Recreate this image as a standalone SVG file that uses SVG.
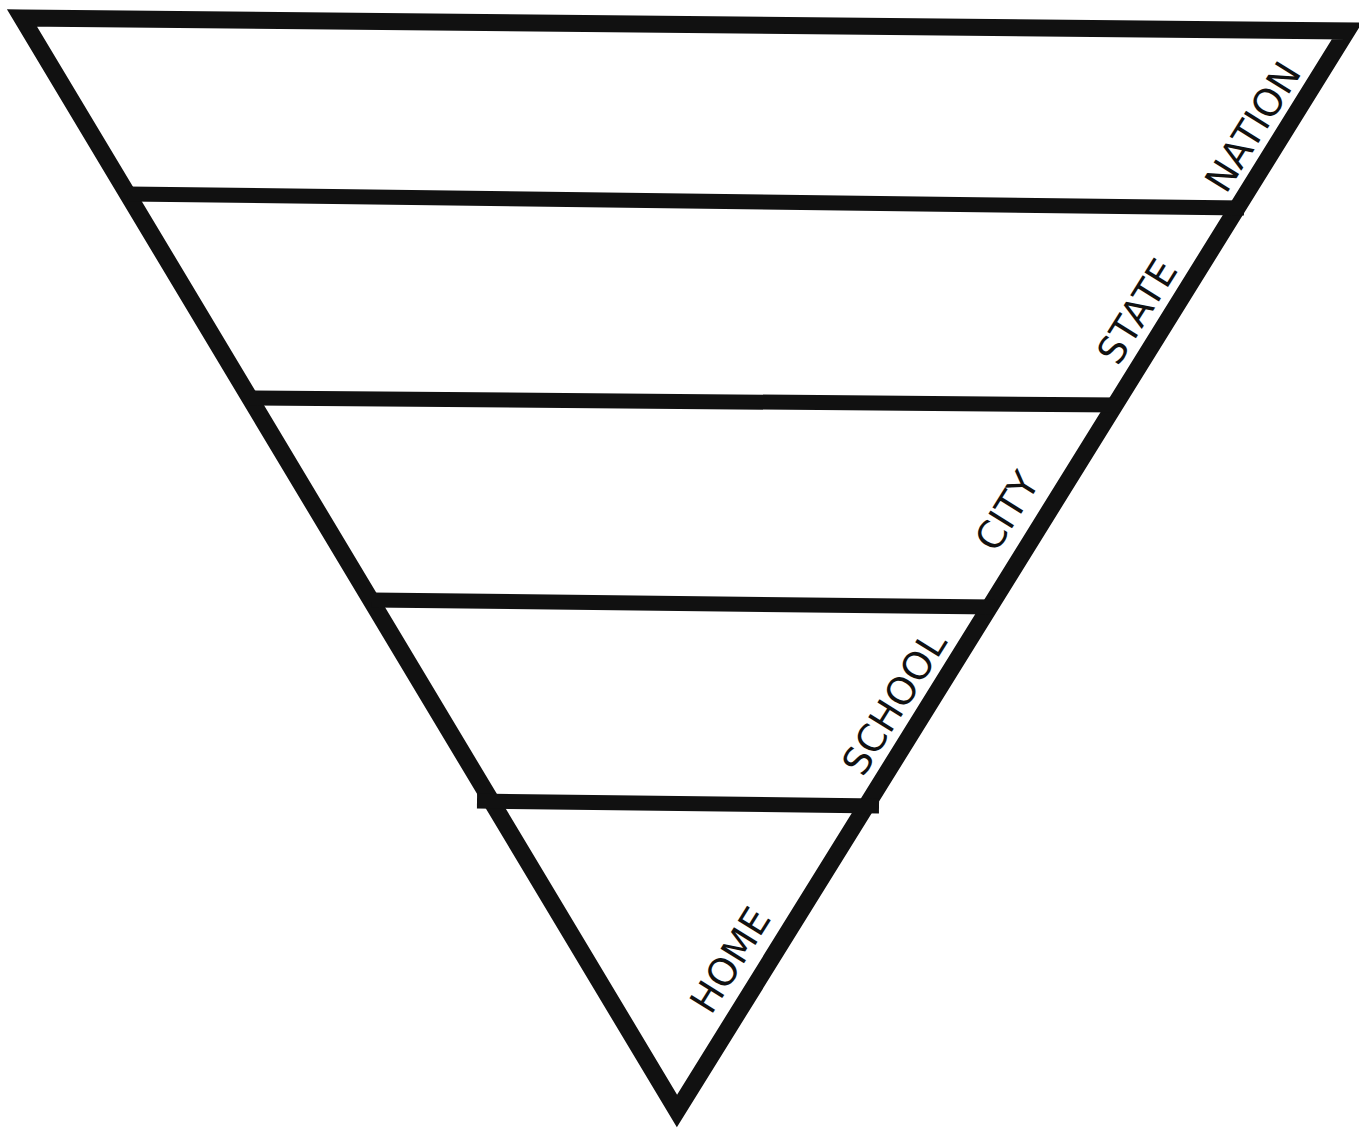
<svg xmlns="http://www.w3.org/2000/svg" width="1359" height="1129" viewBox="0 0 1359 1129">
<style>
.edge{fill:none;stroke:#111;stroke-width:17;stroke-linejoin:miter;stroke-miterlimit:10}
.bar{fill:none;stroke:#111;stroke-width:15;stroke-linecap:butt}
.lbl{font-family:"DejaVu Sans","Liberation Sans",sans-serif;font-size:38px;fill:#111}
</style>
<rect width="1359" height="1129" fill="#fff"/>
<g id="connectors">
<polygon id="triangle" class="edge" points="22,18 1347,31 677,1111"/>
<line class="bar" x1="128" y1="194" x2="1244" y2="208"/>
<line class="bar" x1="250" y1="398" x2="1120" y2="405"/>
<line class="bar" x1="372" y1="600" x2="994" y2="607"/>
<line class="bar" x1="477" y1="801" x2="879" y2="806"/>
</g>
<g id="nation"><text class="lbl" transform="translate(1226,195) rotate(-58)">NATION</text></g>
<g id="state"><text class="lbl" transform="translate(1118,367) rotate(-58)">STATE</text></g>
<g id="city"><text class="lbl" transform="translate(996,554) rotate(-58)">CITY</text></g>
<g id="school"><text class="lbl" transform="translate(863,778) rotate(-58)">SCHOOL</text></g>
<g id="home"><text class="lbl" transform="translate(711,1016) rotate(-58)">HOME</text></g>
</svg>
